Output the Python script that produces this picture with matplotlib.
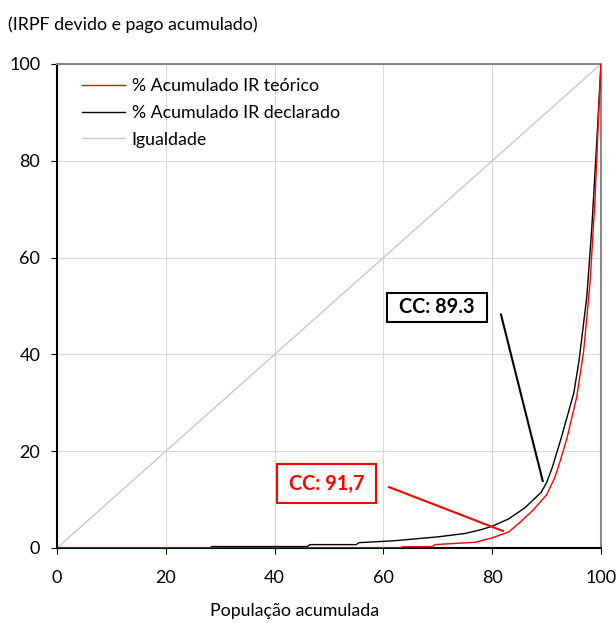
import matplotlib
matplotlib.use("Agg")
import matplotlib.pyplot as plt
from matplotlib.patches import Rectangle

plt.rcParams['font.family'] = ['Lato', 'DejaVu Sans']

# Data
pop_declarado = [0, 28, 28.5, 46, 46.5, 55, 55.5, 62, 66, 70, 75, 78, 80, 83, 86, 89, 90, 91, 92.5, 94, 95, 96, 97.4, 98.3, 99.2, 100]
ir_declarado = [0, 0, 0.3, 0.3, 0.7, 0.7, 1.1, 1.5, 1.9, 2.3, 3.0, 3.8, 4.5, 6.0, 8.3, 11.5, 13.5, 16.5, 22, 28, 32, 39, 52, 66, 83.5, 100]

pop_teorico = [0, 63, 63.5, 69, 69.5, 74, 77, 80, 83, 85, 87.5, 90, 91.5, 92.5, 93.7, 95.5, 96.8, 98, 98.9, 99.7, 100]
ir_teorico = [0, 0, 0.25, 0.3, 0.7, 1.0, 1.2, 2.1, 3.3, 5.2, 7.8, 11, 14.5, 18, 22.5, 31, 40.5, 55, 72, 93, 100]

igualdade = [0, 100]

labels = ['% Acumulado IR teórico', '% Acumulado IR declarado', 'Igualdade']
cc_declarado = 'CC: 89.3'
cc_teorico = 'CC: 91,7'

fig = plt.figure(figsize=(6.16, 6.23), dpi=100)
ax = fig.add_axes([57/616, 1-548/623, 544/616, 484/623])

ax.plot(pop_teorico, ir_teorico, color='#ff0000', lw=1.0, label=labels[0], zorder=4)
ax.plot(pop_declarado, ir_declarado, color='#000000', lw=1.0, label=labels[1], zorder=3)
ax.plot(igualdade, igualdade, color='#c8c8c8', lw=1.0, label=labels[2], zorder=2)

ax.set_xlim(0, 100)
ax.set_ylim(0, 100)
ax.set_xticks(range(0, 101, 20))
ax.set_yticks(range(0, 101, 20))
ax.grid(True, color='#d9d9d9', lw=0.8, zorder=0)
ax.set_axisbelow(True)
ax.tick_params(labelsize=13, length=4, color='black', pad=8)
ax.tick_params(axis='x', pad=12)
for s in ['top', 'right']:
    ax.spines[s].set_color('#888888')
    ax.spines[s].set_linewidth(1.5)
for s in ['left', 'bottom']:
    ax.spines[s].set_color('#000000')
    ax.spines[s].set_linewidth(1.5)

leg = ax.legend(loc='upper left', frameon=False, fontsize=12.8, handlelength=2.44,
                bbox_to_anchor=(0.046, 0.9705), labelspacing=0.6, handletextpad=0.35,
                borderpad=0, borderaxespad=0)

# annotations
ax.annotate('', xy=(89.3, 13.8), xytext=(81.6, 48.3),
            arrowprops=dict(arrowstyle='-', color='black', lw=1.5, shrinkA=0, shrinkB=0))
ax.add_patch(Rectangle((0.6066, 0.467), 0.7904 - 0.6066, 0.527 - 0.467, transform=ax.transAxes,
                       fc='white', ec='black', lw=1.5, zorder=5))
ax.text((0.6066 + 0.7904) / 2, (0.467 + 0.527) / 2, cc_declarado, transform=ax.transAxes,
        ha='center', va='center', fontsize=14.3, fontweight='bold', color='black', zorder=6)

ax.annotate('', xy=(82.0, 3.5), xytext=(61.0, 12.6),
            arrowprops=dict(arrowstyle='-', color='red', lw=1.5, shrinkA=0, shrinkB=0))
ax.add_patch(Rectangle((0.4044, 0.093), 0.5864 - 0.4044, 0.1736 - 0.093, transform=ax.transAxes,
                       fc='white', ec='red', lw=1.5, zorder=5))
ax.text((0.4044 + 0.5864) / 2, (0.093 + 0.1736) / 2, cc_teorico, transform=ax.transAxes,
        ha='center', va='center', fontsize=14.3, fontweight='bold', color='red', zorder=6)

fig.text(8/616, 1-25/623, '(IRPF devido e pago acumulado)', fontsize=12.8, va='center', ha='left')
fig.text(295/616, 1-611/623, 'População acumulada', fontsize=12.8, va='center', ha='center')

fig.savefig('out.png', dpi=100)
